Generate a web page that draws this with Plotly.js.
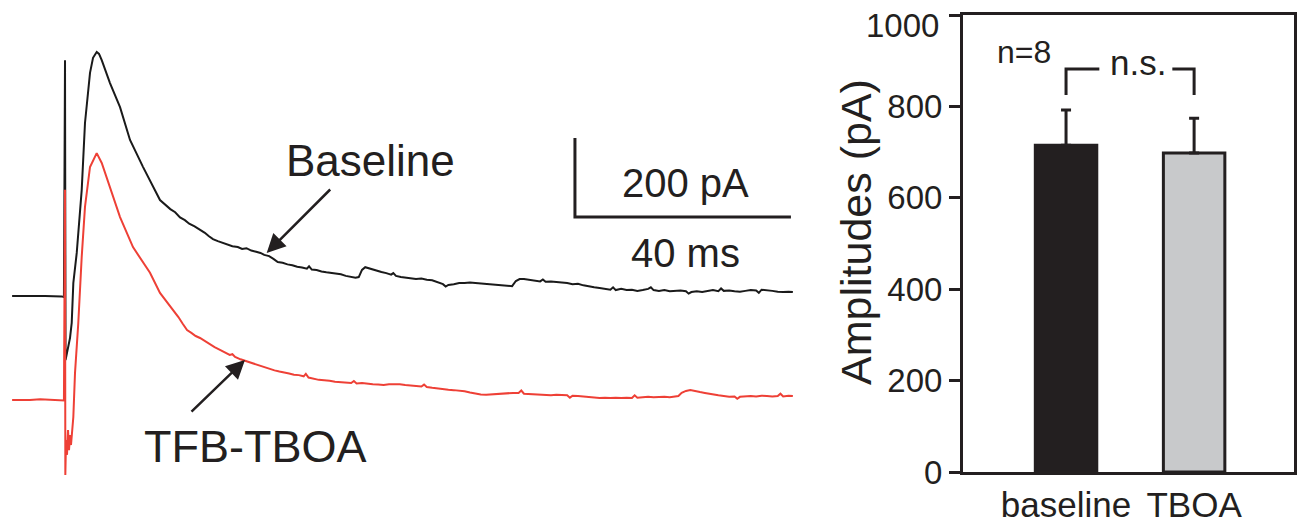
<!DOCTYPE html>
<html>
<head>
<meta charset="utf-8">
<script src="https://cdn.plot.ly/plotly-3.0.1.min.js"></script>
<style>html,body{margin:0;padding:0;background:#fff;}#chart{width:1308px;height:523px;}</style>
</head>
<body>
<div id="chart"></div>
<script>
// ---- Left panel: evoked currents (time in ms relative to stimulus, current in pA) ----
const baselineTime = [-9.8,-7.4,-6.5,-3.7,-1.9,-0.6,-0.2,0.0,0.1,0.93,1.24,1.54,2.17,3.09,3.70,4.63,5.19,5.87,6.30,6.80,8.33,10.19,12.04,14.44,17.59,
  18.5,19.5,20.4,21.3,22.2,23.0,24.0,25.0,25.9,26.6,27.4,28.3,29.2,30.0,31.0,32.0,32.8,33.6,34.5,35.4,36.2,36.9,37.8,38.6,39.4,40.3,41.2,42.1,43.0,43.9,44.8,45.2,45.7,46.6,47.5,48.4,49.3,50.2,51.1,52.0,52.9,53.8,54.4,55.0,55.6,56.3,57.0,57.8,58.6,59.5,60.4,60.8,61.3,62.2,63.1,64.0,65.0,66.0,67.0,68.0,69.0,70.0,70.5,71.0,72.0,73.0,74.0,75.0,76.0,77.0,78.0,79.0,80.0,81.0,82.0,82.8,83.5,84.2,85.0,86.0,87.0,88.0,88.5,89.0,90.0,91.0,92.0,93.0,94.0,95.0,96.0,97.0,98.0,99.0,100.0,101.0,101.5,102.0,103.0,104.0,105.0,106.0,107.0,108.0,108.5,109.0,110.0,111.0,112.0,113.0,114.0,115.0,115.5,116.0,117.0,118.0,119.0,120.0,121.0,121.5,122.0,123.0,124.0,125.0,126.0,127.0,128.0,128.5,129.0,130.0,131.0,132.0,133.0,134.0,134.8];
const baselinePa   = [0,1,0,0,0,-1,-3,597,-162,-106,-68,33,109,268,438,565,603,618,613,597,539,478,395,327,243,
  232,220,212,199,192,183,176,168,160,152,144,139,134,131,126,124,119,121,115,112,109,104,101,94,86,84,80,78,74,72,69,75,67,66,62,60,58,56,55,51,48,46,48,66,73,70,66,64,61,58,54,58,51,48,47,45,43,44,41,40,35,30,24,28,30,33,33,34,33,32,31,29,28,27,26,25,38,43,43,41,38,37,42,36,37,36,35,33,30,31,27,24,22,20,18,16,22,15,18,15,16,13,15,18,22,15,13,15,12,13,14,12,6,10,12,10,13,15,12,19,13,14,12,11,13,15,14,8,16,15,13,11,10,11,10];
const tboaTime = [-9.8,-6.5,-4.6,-2.8,-0.6,-0.2,0.0,0.06,0.19,0.37,0.56,0.74,0.93,1.11,1.30,1.54,1.85,2.46,3.09,3.70,4.63,5.87,6.80,8.33,10.19,12.59,15.74,17.59,
  18.5,19.4,20.2,21.0,21.8,22.6,23.4,24.2,25.0,25.9,26.8,27.7,28.7,29.6,30.5,31.0,31.5,32.5,33.4,34.3,35.2,36.1,37.0,37.9,38.8,39.7,40.6,41.5,42.4,43.3,44.2,44.6,45.1,46.0,47.0,48.0,49.0,50.0,51.0,52.0,53.0,53.5,54.0,55.0,56.0,57.0,58.0,59.0,60.0,61.0,62.0,63.0,64.0,65.0,66.0,66.5,67.0,68.0,69.0,70.0,71.0,72.0,73.0,74.0,75.0,76.0,77.0,78.0,79.0,80.0,81.0,82.0,83.0,84.0,84.5,85.0,86.0,87.0,88.0,89.0,90.0,91.0,92.0,93.0,93.5,94.0,95.0,96.0,97.0,98.0,99.0,100.0,101.0,102.0,103.0,104.0,105.0,105.5,106.0,107.0,108.0,109.0,110.0,111.0,112.0,113.0,113.6,114.2,115.0,115.8,116.6,117.6,118.5,119.3,120.0,121.0,122.0,123.0,124.0,124.5,125.0,126.0,127.0,128.0,129.0,130.0,131.0,132.0,132.5,133.0,134.0,134.8];
const tboaPa   = [0,0,2,1,0,-1,532,-190,-101,-139,-76,-127,-89,-114,-76,-43,68,195,362,489,590,625,600,539,463,387,322,271,
  255,240,226,210,193,177,170,162,157,149,141,134,127,120,114,116,109,103,99,95,90,86,82,78,75,72,70,67,64,63,60,66,57,54,51,50,49,46,45,44,43,48,42,43,41,40,39,38,40,40,40,38,37,35,34,39,33,31,29,28,26,25,24,22,19,16,14,13,14,16,17,18,18,18,24,16,15,14,13,13,12,13,13,12,6,11,10,9,8,6,5,6,5,6,5,6,5,12,6,7,8,7,8,8,7,8,10,18,23,25,22,20,18,16,13,12,10,8,9,3,8,9,10,9,11,10,9,10,16,9,11,10];

// scale bar values
const scaleBarMs = 40;
const scaleBarPa = 200;
const scaleBarLabels = ['200 pA', '40 ms'];
const traceLabels = ['Baseline', 'TFB-TBOA'];

// ---- Right panel: amplitudes ----
const groups = ['baseline', 'TBOA'];
const ampMean = [715, 698];
const ampSem  = [77, 76];
const barColors = ['#231f20', '#c8c9cb'];
const yTicks = [0, 200, 400, 600, 800, 1000];
const nLabel = 'n=8';
const sigLabel = 'n.s.';

// scale bar corner (ms, pA) in the left panel
const sbT = 94.44, sbI = 200;

const FONT = 'Liberation Sans, Arial, Helvetica, sans-serif';
const INK = '#231f20';

const traces = [
  {x: baselineTime, y: baselinePa, xaxis: 'x', yaxis: 'y', type: 'scatter', mode: 'lines',
   line: {color: '#1a1a1a', width: 2}, hoverinfo: 'skip'},
  {x: tboaTime, y: tboaPa, xaxis: 'x', yaxis: 'y3', type: 'scatter', mode: 'lines',
   line: {color: '#ee4036', width: 2}, hoverinfo: 'skip'},
  {x: [sbT, sbT, sbT + scaleBarMs], y: [sbI + scaleBarPa, sbI, sbI], xaxis: 'x', yaxis: 'y',
   type: 'scatter', mode: 'lines', line: {color: INK, width: 3}, hoverinfo: 'skip'},
  {x: groups, y: ampMean, xaxis: 'x2', yaxis: 'y2', type: 'bar', width: 0.48,
   marker: {color: barColors, line: {color: INK, width: 3}},
   error_y: {type: 'data', symmetric: false, array: ampSem, arrayminus: [0, 0],
             color: INK, thickness: 3, width: 5}, hoverinfo: 'skip'}
];

// the top tick label sits just below its tick (kept inside the figure), as in the original
const tickText = yTicks.map((v, i) => i === yTicks.length - 1 ? '' : String(v));

const layout = {
  width: 1308, height: 523,
  margin: {l: 0, r: 0, t: 0, b: 0},
  paper_bgcolor: '#fff', plot_bgcolor: 'rgba(0,0,0,0)',
  showlegend: false,
  font: {family: FONT, color: INK},
  xaxis: {domain: [0, 0.62], range: [-12.04, 138.15], visible: false, fixedrange: true},
  yaxis: {domain: [0, 1], range: [-574.7, 749.4], visible: false, fixedrange: true},
  yaxis3: {overlaying: 'y', range: [-311.4, 1012.7], visible: false, fixedrange: true},
  xaxis2: {domain: [0.7362, 0.9893], anchor: 'y2', range: [-0.805, 1.78], type: 'category',
           showline: true, linewidth: 3, linecolor: INK, mirror: true, ticks: '',
           showgrid: false, zeroline: false, tickfont: {size: 35, family: FONT, color: INK}},
  yaxis2: {domain: [0.0975, 0.9713], anchor: 'x2', range: [0, 1000], tickvals: yTicks,
           ticktext: tickText, ticklabeloverflow: 'allow',
           showline: true, linewidth: 3, linecolor: INK, mirror: true, ticks: 'outside',
           ticklen: 11, tickwidth: 3, tickcolor: INK, showgrid: false, zeroline: false,
           tickfont: {size: 33, family: FONT, color: INK}},
  annotations: [
    {xref: 'paper', yref: 'paper', x: 941 / 1308, y: (523 - 25) / 523, xanchor: 'right', yanchor: 'middle',
     text: String(yTicks[yTicks.length - 1]), showarrow: false, font: {size: 33, family: FONT, color: INK}},
    {xref: 'x', yref: 'y', x: 56.5, y: 344, text: traceLabels[0], showarrow: false,
     font: {size: 44, family: FONT, color: INK}, xanchor: 'center', yanchor: 'middle'},
    {xref: 'x', yref: 'y', x: 35.2, y: -380, text: traceLabels[1], showarrow: false,
     font: {size: 45, family: FONT, color: INK}, xanchor: 'center', yanchor: 'middle'},
    {xref: 'x', yref: 'y', x: 37.35, y: 108.9, axref: 'x', ayref: 'y', ax: 49.39, ay: 273.4,
     text: '', showarrow: true, arrowhead: 2, arrowsize: 1.5, arrowwidth: 2.5, arrowcolor: INK},
    {xref: 'x', yref: 'y', x: 33.33, y: -162, axref: 'x', ayref: 'y', ax: 23.15, ay: -296.2,
     text: '', showarrow: true, arrowhead: 2, arrowsize: 1.5, arrowwidth: 2.5, arrowcolor: INK},
    {xref: 'x', yref: 'y', x: sbT + scaleBarMs * 0.51, y: sbI + scaleBarPa * 0.43, text: scaleBarLabels[0],
     showarrow: false, font: {size: 40, family: FONT, color: INK}},
    {xref: 'x', yref: 'y', x: sbT + scaleBarMs * 0.51, y: sbI - scaleBarPa * 0.45, text: scaleBarLabels[1],
     showarrow: false, font: {size: 40, family: FONT, color: INK}},
    {xref: 'paper', yref: 'paper', x: 856 / 1308, y: (523 - 232) / 523, text: 'Amplitudes (pA)',
     textangle: -90, showarrow: false, font: {size: 43, family: FONT, color: INK}},
    {xref: 'x2', yref: 'y2', x: -0.33, y: 920, text: nLabel, showarrow: false,
     font: {size: 32, family: FONT, color: INK}},
    {xref: 'x2', yref: 'y2', x: 0.56, y: 895, text: sigLabel, showarrow: false,
     font: {size: 35, family: FONT, color: INK}}
  ],
  shapes: [
    {type: 'path', xref: 'x2', yref: 'y2', path: 'M 0,825 L 0,882 L 0.26,882',
     line: {color: INK, width: 3}},
    {type: 'path', xref: 'x2', yref: 'y2', path: 'M 0.83,882 L 1,882 L 1,825',
     line: {color: INK, width: 3}}
  ]
};

Plotly.newPlot('chart', traces, layout, {displayModeBar: false, staticPlot: true});
</script>
</body>
</html>
